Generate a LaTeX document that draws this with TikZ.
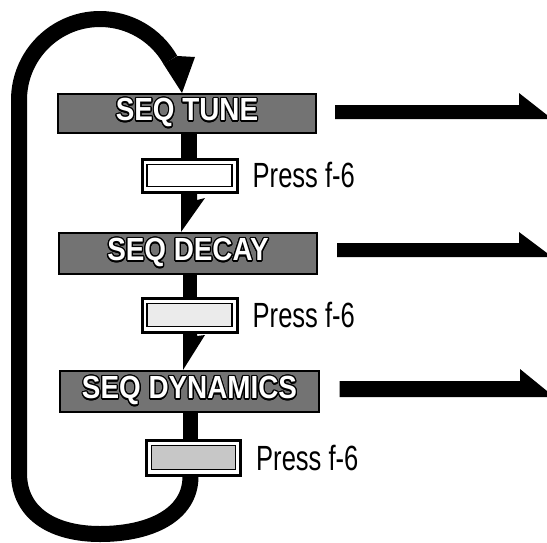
\documentclass[tikz,border=0pt]{standalone}
\usepackage{fontspec}
\setmainfont{Liberation Sans}
\usepackage[copies]{contour}
\contourlength{1.4pt}
\usetikzlibrary{backgrounds,calc}
\tikzset{
  seqbox/.style={draw=black, line width=2pt, fill=black!55, minimum width=258pt,
    minimum height=40pt, inner sep=0pt, text=white,
    font=\fontsize{32}{32}\selectfont\bfseries},
  pressbox/.style={draw=black, line width=3pt, fill=white, minimum width=95pt,
    minimum height=34pt, inner sep=0pt,
    path picture={\draw[line width=1.6pt, fill=#1]
      ([shift={(5pt,-5.5pt)}]path picture bounding box.north west) rectangle
      ([shift={(-5pt,5.5pt)}]path picture bounding box.south east);}},
  pressbox/.default=white,
  presslabel/.style={anchor=west, inner sep=0pt, font=\fontsize{35}{35}\selectfont},
  ink/.style={fill=black, draw=none},
  loopline/.style={draw=black, line width=16pt},
}
\newcommand{\seqtext}[1]{\scalebox{0.87}[1]{\contour{black}{#1}}}
\newcommand{\presstext}{\scalebox{0.73}[1]{Press f-6}}
\begin{document}
\begin{tikzpicture}[x=1pt, y=-1pt]
\useasboundingbox (0,0) rectangle (547,542);

% main boxes
\node[seqbox, minimum height=39pt] (tune) at (187,113.5) {\seqtext{SEQ TUNE}};
\node[seqbox, minimum height=41pt] (decay) at (188,253.5) {\seqtext{SEQ DECAY}};
\node[seqbox, minimum width=259pt, minimum height=41pt] (dyn) at (189.5,391.5) {\seqtext{SEQ DYNAMICS}};

% press boxes
\node[pressbox, minimum height=33pt] (p1) at (189.5,175.5) {};
\node[pressbox=black!8] (p2) at (189.5,315) {};
\node[pressbox=black!22, minimum width=94pt, minimum height=35pt] (p3) at (193.5,457.5) {};

\node[presslabel] (l1) at ([xshift=14pt]p1.east) {\presstext};
\node[presslabel] (l2) at ([xshift=14pt]p2.east) {\presstext};
\node[presslabel] (l3) at ([xshift=14pt]p3.east) {\presstext};

% free ends of the right arrows
\coordinate (e1) at (547,117);
\coordinate (e2) at (547,255);
\coordinate (e3) at (547,394);

\begin{scope}[on background layer]
  % vertical stems and half arrows
  \fill[ink] (181,0 |- tune.south) rectangle (197,0 |- p1.north);
  \fill[ink] (181,0 |- p1.south) -- (197,0 |- p1.south) -- (197,200) -- (205,198)
    -- (181,0 |- decay.north) -- cycle;
  \fill[ink] (183,0 |- decay.south) rectangle (197,0 |- p2.north);
  \fill[ink] (183,0 |- p2.south) -- (197,0 |- p2.south) -- (197,336) -- (205,335)
    -- (183,0 |- dyn.north) -- cycle;
  \fill[ink] (183,0 |- dyn.south) rectangle (198,0 |- p3.north);

  % return loop
  \draw[loopline] (190.5,0 |- p3.south) .. controls (190.5,515) and (150,534) .. (100,534)
    .. controls (55,534) and (19,515) .. (19,473) -- (19,100)
    .. controls (19,55.3) and (55.3,19) .. (100,19)
    .. controls (129.1,19) and (156,34.7) .. (170.4,60);
  \fill[ink] (163.4,64) -- (182,0 |- tune.north) -- (195,57) -- (177.3,56) -- cycle;
\end{scope}

% right arrows
\fill[ink] ($(tune.east)+(18,-8.5)$) -- (519,105) -- (519,93) -- (547,115) -- (e1)
  |- ($(tune.east)+(18,5.5)$) -- cycle;
\fill[ink] ($(decay.east)+(19,-10.5)$) -- (519,243) -- (519,232) -- (547,253) -- (e2)
  |- ($(decay.east)+(19,3.5)$) -- cycle;
\fill[ink] ($(dyn.east)+(19.5,-10.5)$) -- (520,381) -- (520,369) -- (547,391) -- (e3)
  |- ($(dyn.east)+(19.5,5.5)$) -- cycle;
\end{tikzpicture}
\end{document}
